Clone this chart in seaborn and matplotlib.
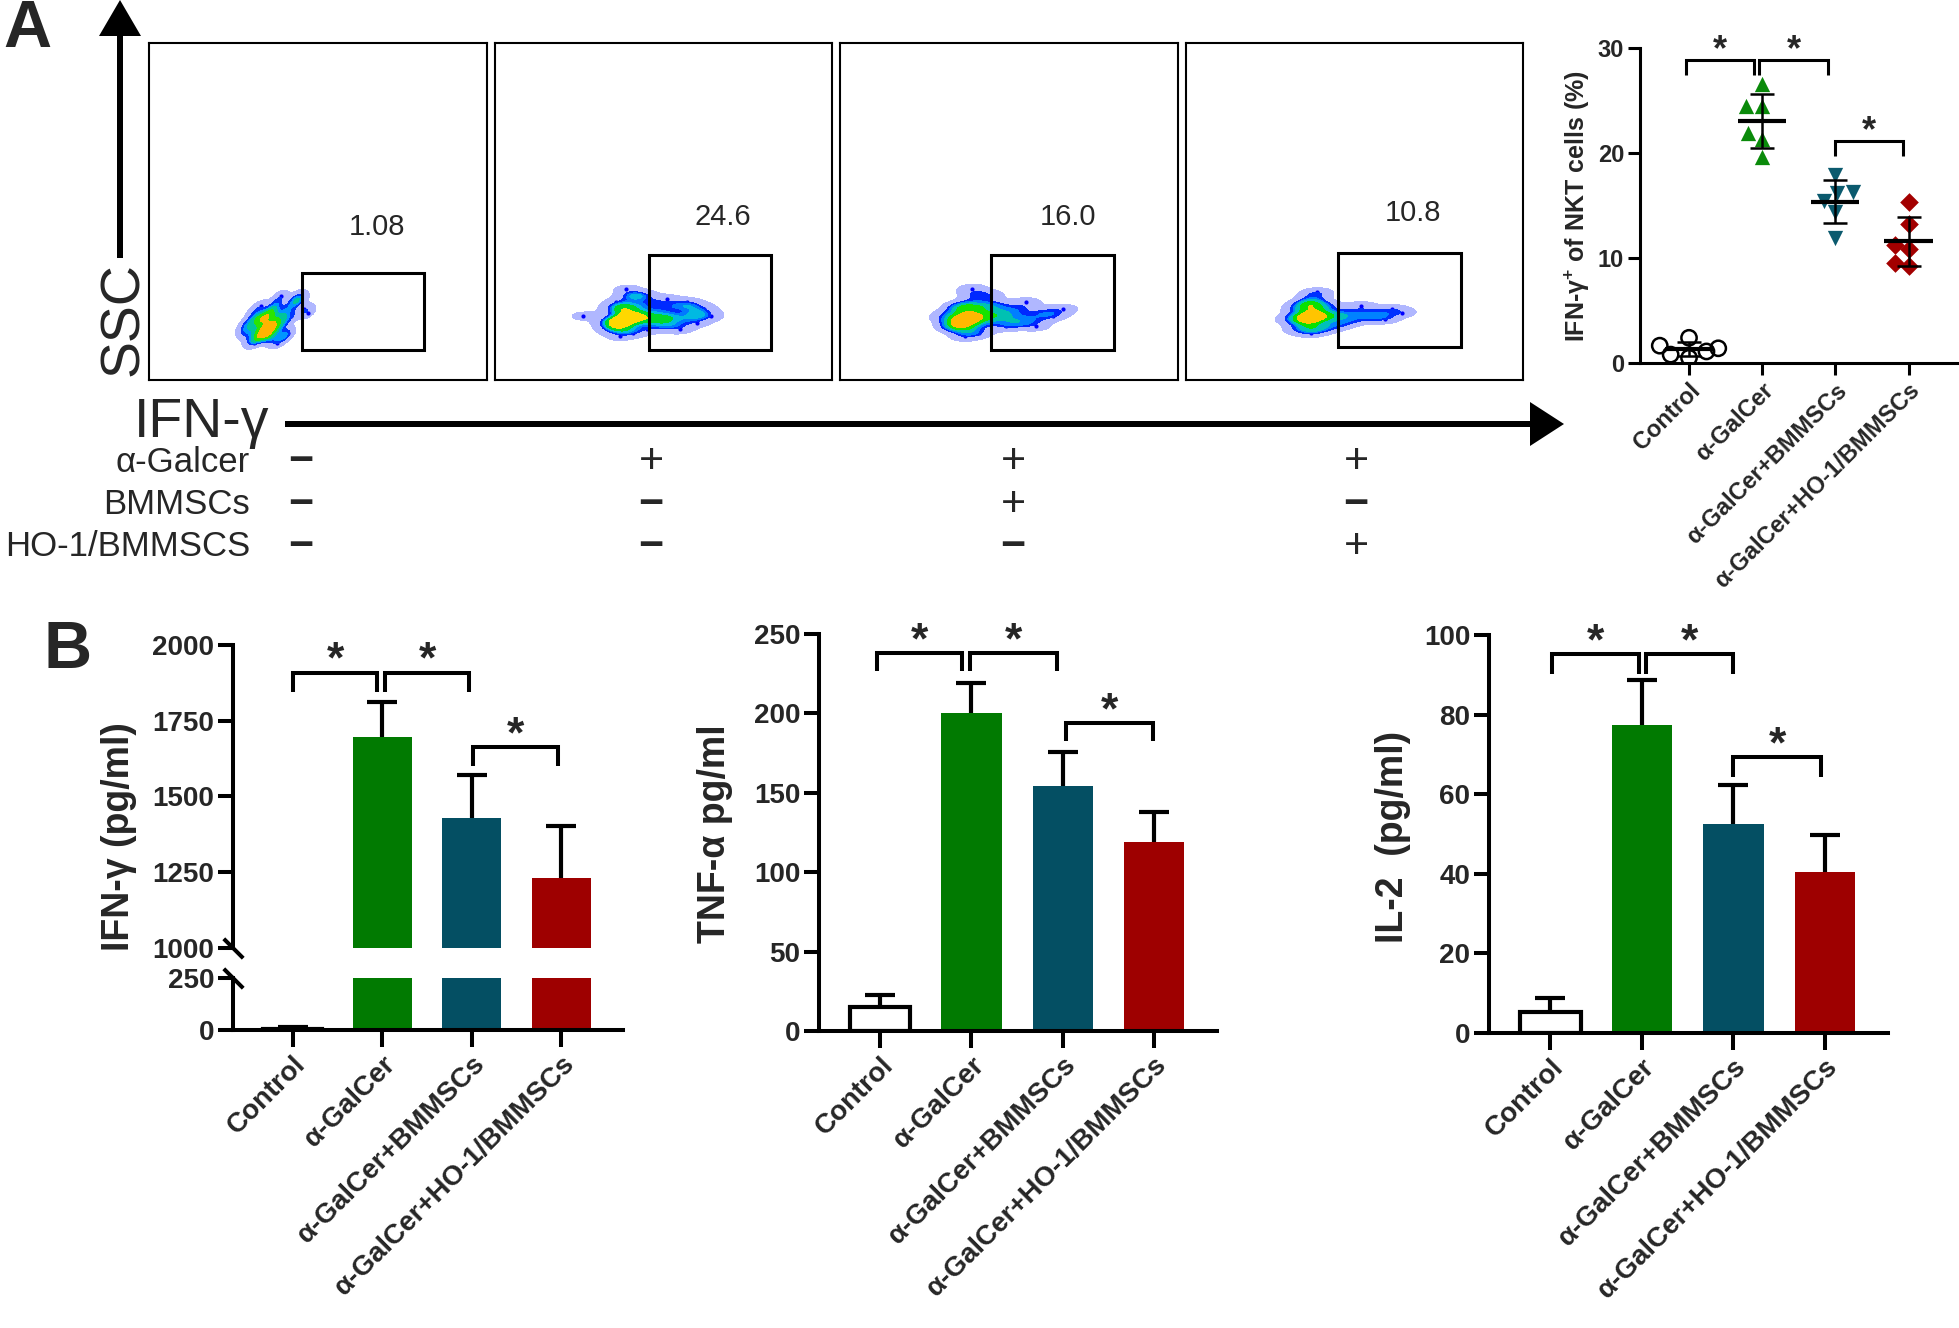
import numpy as np
import matplotlib
matplotlib.use('Agg')
import matplotlib.pyplot as plt
import seaborn as sns
from matplotlib.colors import LinearSegmentedColormap, ListedColormap
from matplotlib.patches import Rectangle

# ---------------- data ----------------
groups = ['Control', 'α-GalCer', 'α-GalCer+BMMSCs', 'α-GalCer+HO-1/BMMSCs']
bar_colors = ['white', '#017a01', '#044f63', '#9e0000']
pt_colors = ['black', '#0a8a0a', '#0b5a6e', '#a30000']

# flow cytometry (A): gate % and hand-read event positions (panel units 0-100)
gate_pct = ['1.08', '24.6', '16.0', '10.8']
flow_x = [
    [35, 34, 36, 33, 37, 35, 32, 38, 36, 34, 39, 41, 40, 37, 43, 30, 42, 38, 45, 33, 29, 36, 46,
     31, 44, 39, 28, 31, 33, 38, 41, 29, 35, 40, 47, 32],
    [38, 37, 39, 36, 40, 38, 35, 41, 39, 37, 40, 36, 34, 42, 43, 44, 46, 48, 50, 52, 54, 56, 58, 60,
     62, 64, 49, 53, 47, 51, 57, 33, 41, 26, 45, 55, 59, 61, 50, 44, 35, 39, 37, 42],
    [37, 36, 38, 35, 39, 37, 34, 40, 38, 36, 40, 33, 42, 43, 45, 47, 50, 53, 56, 60, 63, 49, 55, 41,
     66, 52, 58, 46, 31, 35, 39, 37, 44],
    [37, 36, 38, 35, 39, 37, 34, 39, 38, 36, 38, 33, 41, 42, 45, 48, 51, 54, 57, 61, 64, 40, 31,
     47, 52, 59, 44, 35, 39, 37, 33],
]
flow_y = [
    [15, 14, 16, 13, 17, 13, 15, 15, 19, 17, 19, 21, 17, 21, 23, 12, 19, 23, 24, 18, 14, 12, 21,
     11, 25, 25, 15, 20, 22, 11, 14, 17, 20, 13, 20, 18],
    [18, 17, 19, 16, 20, 15, 18, 17, 22, 21, 25, 23, 15, 19, 22, 18, 20, 18, 21, 19, 22, 18, 20, 17,
     21, 19, 16, 16, 23, 24, 23, 17, 14, 19, 15, 15, 22, 19, 18, 25, 21, 27, 13, 25],
    [18, 17, 19, 16, 20, 15, 18, 17, 22, 22, 25, 16, 19, 22, 18, 20, 19, 21, 18, 20, 19, 16, 23, 14,
     21, 17, 16, 22, 19, 21, 27, 13, 25],
    [19, 18, 20, 17, 21, 16, 19, 18, 23, 23, 25, 15, 19, 22, 19, 20, 18, 20, 19, 21, 20, 15, 18,
     17, 22, 18, 16, 22, 26, 14, 21],
]
gates = [(45.3, 8.9, 81.4, 31.8), (45.6, 8.9, 81.8, 37.1),
         (44.7, 8.9, 81.0, 37.0), (45.2, 9.9, 81.5, 37.8)]
treat_rows = ['α-Galcer', 'BMMSCs', 'HO-1/BMMSCS']
treat_signs = [['−', '+', '+', '+'],
               ['−', '−', '+', '−'],
               ['−', '−', '−', '+']]

# IFN-γ+ of NKT cells (%)
nkt_vals = [
    [0.8, 1.65, 1.1, 1.4, 2.4, 0.5],
    [26.6, 24.5, 24.5, 21.9, 21.3, 19.6],
    [17.9, 16.15, 16.3, 15.4, 14.4, 11.9],
    [15.36, 13.24, 11.25, 10.83, 9.25, 9.57],
]
nkt_markers = ['o', '^', 'v', 'D']

# panel B cytokines (mean, SD)
ifn_mean = [5, 1695, 1430, 1232]
ifn_sd = [9, 118, 141, 172]
tnf_mean = [15, 200.5, 154, 119]
tnf_sd = [7.5, 18.5, 22, 19]
il2_mean = [5.3, 77.5, 52.5, 40.5]
il2_sd = [3.5, 11.2, 9.7, 9.2]

# significance brackets: (x1, x2, top, drop)
sig_nkt = [(-0.04, 0.89, 28.86, 27.4), (0.96, 1.9, 28.86, 27.4), (1.99, 2.93, 21.1, 19.7)]
sig_ifn = [(0.0, 0.94, 1908, 1845), (1.03, 1.97, 1908, 1845), (2.01, 2.96, 1663, 1600)]
sig_tnf = [(-0.04, 0.9, 238, 226.5), (0.98, 1.94, 238, 226.5), (2.04, 2.99, 194, 182.6)]
sig_il2 = [(0.02, 0.97, 95.2, 90.2), (1.05, 2.0, 95.2, 90.2), (2.0, 2.96, 69.3, 64.3)]

# ---------------- style ----------------
sns.set_style('ticks')
plt.rcParams['font.family'] = ['Liberation Sans', 'DejaVu Sans']
plt.rcParams['font.weight'] = 'bold'
plt.rcParams['mathtext.fontset'] = 'custom'
plt.rcParams['mathtext.bf'] = 'Liberation Sans:bold'
plt.rcParams['mathtext.rm'] = 'Liberation Sans:bold'

W, H = 1959, 1328
fig = plt.figure(figsize=(W / 100, H / 100), dpi=100)


def rect(x0, y0, x1, y1):
    return [x0 / W, 1 - y1 / H, (x1 - x0) / W, (y1 - y0) / H]


# overlay axes in pixel units for free text and arrows
ax0 = fig.add_axes([0, 0, 1, 1], zorder=-1)
ax0.set_xlim(0, W)
ax0.set_ylim(H, 0)
ax0.axis('off')

# ---------------- A: flow plots ----------------
flow_cmap = LinearSegmentedColormap.from_list('flow', ['#0000ff', '#00b4ff', '#00e000', '#ffff00', '#ff0000'])
sparse_cmap = ListedColormap(['#6f7dff'])
flow_rects = [(149, 43, 487, 380), (495, 43, 832, 380), (840, 43, 1178, 380), (1186, 43, 1523, 380)]
label_y = [45.5, 48.5, 48.5, 49.5]
for i in range(4):
    ax = fig.add_axes(rect(*flow_rects[i]))
    sns.kdeplot(x=flow_x[i], y=flow_y[i], fill=True, cmap=sparse_cmap, levels=2, thresh=0.06,
                bw_adjust=0.65, alpha=0.55, ax=ax)
    sns.scatterplot(x=flow_x[i], y=flow_y[i], s=9, color='#0000ff', linewidth=0, ax=ax)
    sns.kdeplot(x=flow_x[i], y=flow_y[i], fill=True, cmap=flow_cmap, levels=6, thresh=0.3,
                bw_adjust=0.7, ax=ax)
    g = gates[i]
    ax.add_patch(Rectangle((g[0], g[1]), g[2] - g[0], g[3] - g[1], fill=False, lw=2.2, ec='black'))
    ax.text(67.5, label_y[i], gate_pct[i], ha='center', va='center', fontsize=21, fontweight='normal')
    ax.set_xlim(0, 100)
    ax.set_ylim(0, 100)
    ax.set_xticks([])
    ax.set_yticks([])
    ax.set_xlabel('')
    ax.set_ylabel('')
    for s in ax.spines.values():
        s.set_linewidth(1.5)
        s.set_color('black')

ax0.text(27, 30, 'A', ha='center', va='center', fontsize=48, fontweight='bold')
ax0.text(68, 651, 'B', ha='center', va='center', fontsize=48, fontweight='bold')
ax0.arrow(120, 258, 0, -222, width=6, head_width=42, head_length=36, length_includes_head=False,
          color='black', lw=0)
ax0.arrow(285, 424, 1245, 0, width=6, head_width=44, head_length=34, length_includes_head=False,
          color='black', lw=0)
ax0.text(124, 319, 'SSC', rotation=90, ha='center', va='center', fontsize=40, fontweight='normal')
ax0.text(269, 437, 'IFN-γ', ha='right', va='baseline', fontsize=40, fontweight='normal')

row_y = [462, 505, 547]
col_x = [301, 651, 1013, 1356]
for r in range(3):
    ax0.text(250, row_y[r], treat_rows[r], ha='right', va='center', fontsize=25, fontweight='normal')
    for c in range(4):
        sgn = treat_signs[r][c]
        ax0.text(col_x[c], row_y[r], sgn, ha='center', va='center', fontsize=31,
                 fontweight='heavy' if sgn == '−' else 'normal')


def bracket(ax, b, fs, lw):
    x1, x2, top, drop = b
    ax.plot([x1, x1, x2, x2], [drop, top, top, drop], color='black', lw=lw, clip_on=False,
            solid_joinstyle='miter', solid_capstyle='butt')
    ax.text((x1 + x2) / 2, top, '*', ha='center', va='baseline', fontsize=fs, fontweight='bold',
            clip_on=False)


def style_axes(ax, lw, tlen, fs):
    sns.despine(ax=ax)
    for s in ['left', 'bottom']:
        ax.spines[s].set_linewidth(lw)
        ax.spines[s].set_color('black')
    ax.tick_params(axis='both', length=tlen, width=lw, labelsize=fs, pad=3, color='black')
    ax.set_xlabel('')
    ax.set_ylabel('')


# ---------------- A: NKT scatter ----------------
axs = fig.add_axes(rect(1640, 48, 1959, 363))
for i in range(4):
    sns.swarmplot(x=[groups[i]] * len(nkt_vals[i]), y=nkt_vals[i], order=groups,
                  marker=nkt_markers[i], color=pt_colors[i], size=11 if i < 3 else 9.5,
                  ax=axs, zorder=2)
circ = axs.collections[0]
circ.set_facecolor('none')
circ.set_edgecolor('black')
circ.set_linewidth(1.8)
means = [np.mean(v) for v in nkt_vals]
sds = [np.std(v, ddof=1) for v in nkt_vals]
xs = np.arange(4)
axs.hlines(means, xs - 0.33, xs + 0.33, color='black', lw=3, zorder=4)
axs.errorbar(xs, means, yerr=sds, fmt='none', ecolor='black', elinewidth=1.8, capsize=8.5,
             capthick=1.8, zorder=4)
axs.set_xlim(-0.67, 3.69)
axs.set_ylim(0, 30)
axs.set_yticks([0, 10, 20, 30])
style_axes(axs, 2.2, 8.5, 17)
axs.set_xticks(range(4))
axs.set_xticklabels(groups, rotation=45, ha='right', rotation_mode='anchor', fontsize=17)
for b in sig_nkt:
    bracket(axs, b, 26, 2.2)
ax0.text(1577, 206, 'IFN-γ$^{\\mathbf{+}}$ of NKT cells (%)', rotation=90, ha='center',
         va='center', fontsize=18, fontweight='bold')


# ---------------- B: bar charts ----------------
def bars(ax, mean, sd):
    sns.barplot(x=groups, y=mean, hue=groups, order=groups, hue_order=groups, palette=bar_colors,
                legend=False, width=0.66, errorbar=None, saturation=1, ax=ax)
    for j, p in enumerate(ax.patches):
        if j == 0:
            p.set_edgecolor('black')
            p.set_linewidth(3)
        else:
            p.set_linewidth(0)
    eb = ax.errorbar(range(4), mean, yerr=[np.zeros(4), sd], fmt='none', ecolor='black',
                     elinewidth=3, capsize=10.5, capthick=3, zorder=3)
    # only the upper cap (one-sided SD)
    eb[1][0].set_visible(False)
    ax.set_xlim(-0.67, 3.69)


def xlabels(ax):
    ax.set_xticks(range(4))
    ax.set_xticklabels(groups, rotation=45, ha='right', rotation_mode='anchor', fontsize=20)


# IFN-γ with broken axis
ax_hi = fig.add_axes(rect(233, 645, 623, 948))
ax_lo = fig.add_axes(rect(233, 978, 623, 1030))
bars(ax_hi, ifn_mean, ifn_sd)
bars(ax_lo, ifn_mean, ifn_sd)
ax_hi.set_ylim(1000, 2000)
ax_hi.set_yticks([1000, 1250, 1500, 1750, 2000])
ax_lo.set_ylim(0, 250)
ax_lo.set_yticks([0, 250])
style_axes(ax_hi, 2.9, 10.5, 20)
style_axes(ax_lo, 2.9, 10.5, 20)
ax_hi.spines['bottom'].set_visible(False)
ax_hi.tick_params(axis='x', bottom=False, labelbottom=False)
ax_lo.tick_params(axis='x', length=12)
xlabels(ax_lo)
brk = dict(marker=[(-1, 1), (1, -1)], markersize=14, linestyle='none', color='black',
           mec='black', mew=2.9, clip_on=False)
ax_hi.plot([0], [0.0], transform=ax_hi.transAxes, **brk)
ax_lo.plot([0], [1.0], transform=ax_lo.transAxes, **brk)
for b in sig_ifn:
    bracket(ax_hi, b, 32, 2.9)
ax0.text(119, 837, 'IFN-γ (pg/ml)', rotation=90, ha='center', va='center', fontsize=27,
         fontweight='bold')

# TNF-α
ax_t = fig.add_axes(rect(819, 634, 1217, 1031))
bars(ax_t, tnf_mean, tnf_sd)
ax_t.set_ylim(0, 250)
ax_t.set_yticks([0, 50, 100, 150, 200, 250])
style_axes(ax_t, 2.9, 10.5, 20)
ax_t.tick_params(axis='x', length=12)
xlabels(ax_t)
for b in sig_tnf:
    bracket(ax_t, b, 32, 2.9)
ax0.text(715, 834, 'TNF-α pg/ml', rotation=90, ha='center', va='center', fontsize=27,
         fontweight='bold')

# IL-2
ax_i = fig.add_axes(rect(1489, 635, 1888, 1033))
bars(ax_i, il2_mean, il2_sd)
ax_i.set_ylim(0, 100)
ax_i.set_yticks([0, 20, 40, 60, 80, 100])
style_axes(ax_i, 2.9, 10.5, 20)
ax_i.tick_params(axis='x', length=12)
xlabels(ax_i)
for b in sig_il2:
    bracket(ax_i, b, 32, 2.9)
ax0.text(1393, 837, 'IL-2  (pg/ml)', rotation=90, ha='center', va='center', fontsize=27,
         fontweight='bold')

fig.savefig('out.png', dpi=100)
